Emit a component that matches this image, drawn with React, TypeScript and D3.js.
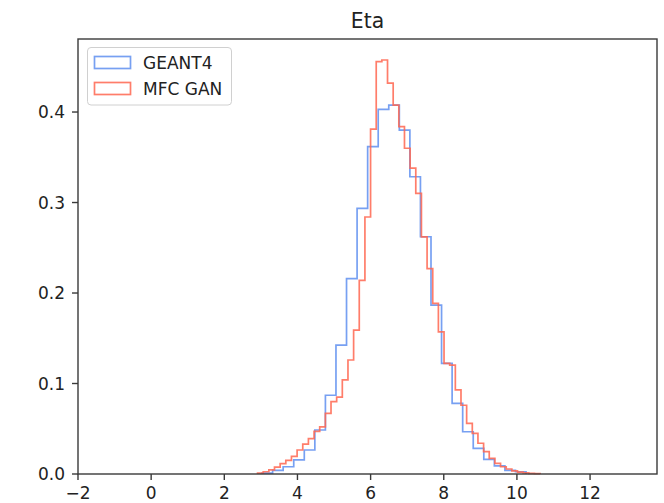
import React from "react";
import * as d3 from "d3";

// Histogram densities (step histograms, uniform bins)
const geant4Start = 3.032;
const geant4BinWidth = 0.2887;
const geant4Density = [
  0.001, 0.004, 0.008, 0.0155, 0.0265, 0.0486, 0.087, 0.1425, 0.216, 0.2936,
  0.3617, 0.403, 0.4077, 0.38, 0.3285, 0.2622, 0.1867, 0.1223, 0.078, 0.0467,
  0.0284, 0.0162, 0.009, 0.004, 0.0025,
];

const ganStart = 2.909;
const ganBinWidth = 0.1545;
const ganDensity = [
  0.001, 0.0025, 0.0045, 0.0075, 0.0115, 0.015, 0.0195, 0.0265, 0.033, 0.039,
  0.047, 0.052, 0.067, 0.08, 0.085, 0.104, 0.126, 0.159, 0.214, 0.284,
  0.381, 0.4556, 0.4575, 0.432, 0.4077, 0.3838, 0.36, 0.338, 0.31, 0.262,
  0.227, 0.1886, 0.157, 0.1223, 0.1204, 0.093, 0.076, 0.056, 0.045, 0.034,
  0.0247, 0.0173, 0.0118, 0.008, 0.0055, 0.0035, 0.002, 0.0012, 0.0008, 0.0005,
];

const xTicks = [-2, 0, 2, 4, 6, 8, 10, 12];
const yTicks = [0, 0.1, 0.2, 0.3, 0.4];
const seriesNames = ["GEANT4", "MFC GAN"];
const seriesColors = ["#5f8ff0", "#ff6650"];

const W = 664;
const H = 503;
const left = 78;
const right = 657;
const top = 39;
const bottom = 474;
const font = "'DejaVu Sans', sans-serif";
const fontSize = 17;

function stepPoints(start: number, width: number, values: number[]): [number, number][] {
  const pts: [number, number][] = [[start, 0]];
  values.forEach((v, i) => {
    pts.push([start + i * width, v]);
    pts.push([start + (i + 1) * width, v]);
  });
  pts.push([start + values.length * width, 0]);
  return pts;
}

const fmtMinus = (s: string) => s.replace("-", "\u2212");

export default function App() {
  const x = d3.scaleLinear().domain([-2, 13.83]).range([left, right]);
  const y = d3.scaleLinear().domain([0, 0.4807]).range([bottom, top]);
  const line = d3
    .line<[number, number]>()
    .x((d) => x(d[0]))
    .y((d) => y(d[1]));

  const series = [
    stepPoints(geant4Start, geant4BinWidth, geant4Density),
    stepPoints(ganStart, ganBinWidth, ganDensity),
  ];

  return (
    <div style={{ position: "absolute", left: 0, top: 0 }}>
      <svg width={W} height={H} style={{ display: "block", background: "#fff" }}>
        <rect x={0} y={0} width={W} height={H} fill="#fff" />
        <g fill="none" strokeWidth={1.7} strokeLinejoin="miter">
          {series.map((pts, i) => (
            <path key={i} d={line(pts) || ""} stroke={seriesColors[i]} strokeOpacity={0.85} />
          ))}
        </g>
        {/* axes frame */}
        <rect
          x={left}
          y={top}
          width={right - left}
          height={bottom - top}
          fill="none"
          stroke="#3a3a3a"
          strokeWidth={1.4}
        />
        {/* x ticks */}
        <g fontFamily={font} fontSize={fontSize} fill="#222">
          {xTicks.map((t) => (
            <g key={t}>
              <line x1={x(t)} x2={x(t)} y1={bottom} y2={bottom + 6} stroke="#3a3a3a" strokeWidth={1.4} />
              <text x={x(t)} y={bottom + 24.5} textAnchor="middle">
                {fmtMinus(String(t))}
              </text>
            </g>
          ))}
          {yTicks.map((t) => (
            <g key={t}>
              <line x1={left - 6} x2={left} y1={y(t)} y2={y(t)} stroke="#3a3a3a" strokeWidth={1.4} />
              <text x={left - 13} y={y(t) + 6} textAnchor="end">
                {t.toFixed(1)}
              </text>
            </g>
          ))}
          <text x={(left + right) / 2} y={28} textAnchor="middle" fontSize={20.4}>
            Eta
          </text>
        </g>
        {/* legend */}
        <g fontFamily={font} fontSize={fontSize} fill="#222">
          <rect x={87.5} y={47.5} width={144} height={57.5} rx={3.5} fill="#fff" fillOpacity={0.8} stroke="#d0d0d0" />
          {seriesNames.map((name, i) => (
            <g key={name}>
              <rect
                x={94.5}
                y={56.5 + i * 26}
                width={36}
                height={12}
                fill="none"
                stroke={seriesColors[i]}
                strokeOpacity={0.85}
                strokeWidth={1.7}
              />
              <text x={143} y={68.5 + i * 26}>
                {name}
              </text>
            </g>
          ))}
        </g>
      </svg>
    </div>
  );
}
